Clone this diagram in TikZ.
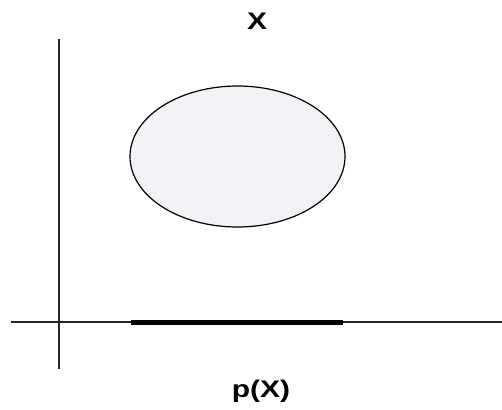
\documentclass[tikz,border=0pt]{standalone}
\usepackage{fontspec}
\setmainfont{Liberation Sans}
\usetikzlibrary{shapes.geometric}
\definecolor{setfill}{RGB}{242,241,246}
\newcommand\labelfont{\fontsize{24pt}{28pt}\selectfont\bfseries}
\tikzset{
  axisline/.style={line width=1.3pt,black!85},
  projbar/.style={line width=5pt,black},
  setshape/.style={ellipse,draw,line width=1.2pt,fill=setfill,minimum width=215pt,minimum height=141pt,inner sep=0pt},
  biglabel/.style={font=\labelfont,inner sep=0pt,xscale=1.25}
}
\begin{document}
\begin{tikzpicture}[x=1pt,y=-1pt]%
\useasboundingbox (0,0) rectangle (502,409);
% axes
\coordinate (ytop) at (59,39);
\coordinate (ybot) at (59,369);
\coordinate (xleft) at (11,322);
\coordinate (xright) at (502,322);
\draw[axisline] (ytop) -- (ybot);
\draw[axisline] (xleft) -- (xright);
% the set X
\node[setshape] (setX) at (237.5,156.5) {};
\node[biglabel] (labX) at (257,21) {X};
% its projection
\coordinate (pleft) at (131,322);
\coordinate (pright) at (343,322);
\draw[projbar] (pleft) -- (pright);
\node[biglabel] (labP) at (261,391) {p(X)};
\end{tikzpicture}
\end{document}
